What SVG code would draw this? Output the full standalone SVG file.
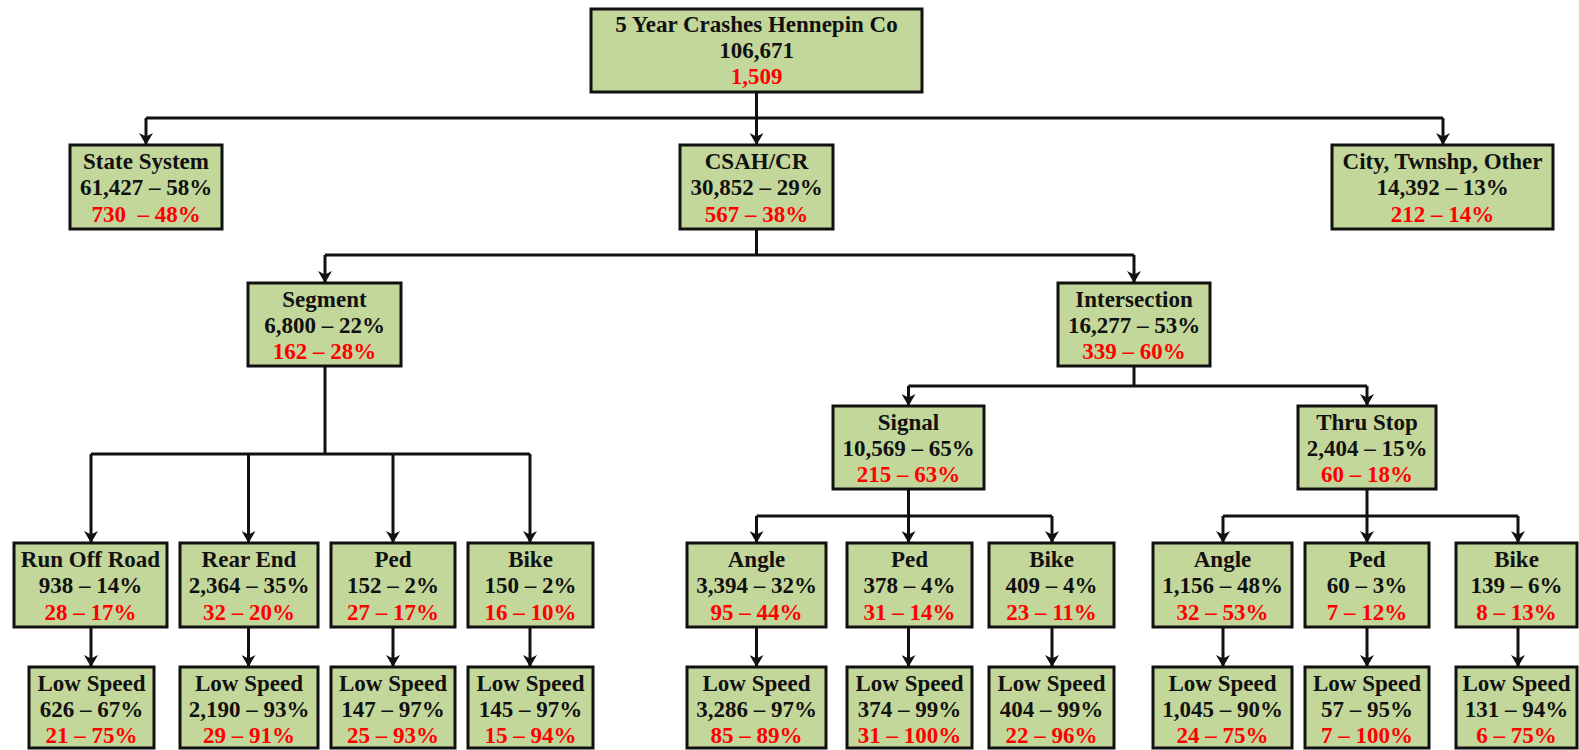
<svg xmlns="http://www.w3.org/2000/svg" width="1579" height="750" viewBox="0 0 1579 750">
<defs>
<style>
.box{fill:#c4d79b;stroke:#111;stroke-width:3}
text{font-family:"Liberation Serif","Times New Roman",serif;font-weight:bold;font-size:23px;text-anchor:middle;fill:#111}
.r{fill:#ff0000}
.c{fill:none;stroke:#111;stroke-width:3}
.a{fill:none;stroke:#111;stroke-width:3;marker-end:url(#ah)}
</style>
<marker id="ah" viewBox="0 0 12 14" refX="12" refY="7" markerWidth="12" markerHeight="14" markerUnits="userSpaceOnUse" orient="auto">
<path d="M0,0 L12,7 L0,14 L3.5,7 z" fill="#111"/>
</marker>
</defs>
<rect width="1579" height="750" fill="#fff"/>
<g id="connectors">
<path class="c" d="M756.5,92 V118 M146,118 H1443"/>
<path class="a" d="M146,118 V145"/>
<path class="a" d="M756.5,118 V145"/>
<path class="a" d="M1443,118 V145"/>
<path class="c" d="M756.5,229 V255 M325,255 H1134"/>
<path class="a" d="M325,255 V283"/>
<path class="a" d="M1134,255 V283"/>
<path class="c" d="M325,366 V454 M91,454 H530"/>
<path class="a" d="M91,454 V543"/>
<path class="a" d="M248.5,454 V543"/>
<path class="a" d="M393,454 V543"/>
<path class="a" d="M530,454 V543"/>
<path class="c" d="M1134,366 V386 M908.5,386 H1367"/>
<path class="a" d="M908.5,386 V406"/>
<path class="a" d="M1367,386 V406"/>
<path class="c" d="M908.5,489 V516 M756.5,516 H1052"/>
<path class="a" d="M756.5,516 V543"/>
<path class="a" d="M908.5,516 V543"/>
<path class="a" d="M1052,516 V543"/>
<path class="c" d="M1367,489 V516 M1223,516 H1518"/>
<path class="a" d="M1223,516 V543"/>
<path class="a" d="M1367,516 V543"/>
<path class="a" d="M1518,516 V543"/>
<path class="a" d="M91,627 V667"/>
<path class="a" d="M248.5,627 V667"/>
<path class="a" d="M393,627 V667"/>
<path class="a" d="M530,627 V667"/>
<path class="a" d="M756.5,627 V667"/>
<path class="a" d="M908.5,627 V667"/>
<path class="a" d="M1052,627 V667"/>
<path class="a" d="M1223,627 V667"/>
<path class="a" d="M1367,627 V667"/>
<path class="a" d="M1518,627 V667"/>
</g>
<g id="n-top"><rect class="box" x="591" y="9" width="331" height="83"/>
<text x="756.5" y="32">5 Year Crashes Hennepin Co</text><text x="756.5" y="58">106,671</text><text class="r" x="756.5" y="84">1,509</text></g>
<g id="n-state"><rect class="box" x="70" y="145" width="152" height="84"/>
<text x="146" y="169">State System</text><text x="146" y="195">61,427 – 58%</text><text class="r" x="146" y="222" xml:space="preserve">730  – 48%</text></g>
<g id="n-csah"><rect class="box" x="680" y="145" width="153" height="84"/>
<text x="756.5" y="169">CSAH/CR</text><text x="756.5" y="195">30,852 – 29%</text><text class="r" x="756.5" y="222">567 – 38%</text></g>
<g id="n-city"><rect class="box" x="1332" y="145" width="221" height="84"/>
<text x="1442.5" y="169">City, Twnshp, Other</text><text x="1442.5" y="195">14,392 – 13%</text><text class="r" x="1442.5" y="222">212 – 14%</text></g>
<g id="n-segment"><rect class="box" x="248" y="283" width="153" height="83"/>
<text x="324.5" y="307">Segment</text><text x="324.5" y="333">6,800 – 22%</text><text class="r" x="324.5" y="359">162 – 28%</text></g>
<g id="n-intersection"><rect class="box" x="1058" y="283" width="152" height="83"/>
<text x="1134" y="307">Intersection</text><text x="1134" y="333">16,277 – 53%</text><text class="r" x="1134" y="359">339 – 60%</text></g>
<g id="n-signal"><rect class="box" x="833" y="406" width="151" height="83"/>
<text x="908.5" y="430">Signal</text><text x="908.5" y="456">10,569 – 65%</text><text class="r" x="908.5" y="482">215 – 63%</text></g>
<g id="n-thrustop"><rect class="box" x="1298" y="406" width="138" height="83"/>
<text x="1367" y="430">Thru Stop</text><text x="1367" y="456">2,404 – 15%</text><text class="r" x="1367" y="482">60 – 18%</text></g>
<g id="n-ror"><rect class="box" x="14" y="543" width="153" height="84"/>
<text x="90.5" y="567">Run Off Road</text><text x="90.5" y="593">938 – 14%</text><text class="r" x="90.5" y="620">28 – 17%</text></g>
<g id="n-rear"><rect class="box" x="180" y="543" width="138" height="84"/>
<text x="249" y="567">Rear End</text><text x="249" y="593">2,364 – 35%</text><text class="r" x="249" y="620">32 – 20%</text></g>
<g id="n-segped"><rect class="box" x="331" y="543" width="124" height="84"/>
<text x="393" y="567">Ped</text><text x="393" y="593">152 – 2%</text><text class="r" x="393" y="620">27 – 17%</text></g>
<g id="n-segbike"><rect class="box" x="468" y="543" width="125" height="84"/>
<text x="530.5" y="567">Bike</text><text x="530.5" y="593">150 – 2%</text><text class="r" x="530.5" y="620">16 – 10%</text></g>
<g id="n-sigangle"><rect class="box" x="687" y="543" width="139" height="84"/>
<text x="756.5" y="567">Angle</text><text x="756.5" y="593">3,394 – 32%</text><text class="r" x="756.5" y="620">95 – 44%</text></g>
<g id="n-sigped"><rect class="box" x="847" y="543" width="125" height="84"/>
<text x="909.5" y="567">Ped</text><text x="909.5" y="593">378 – 4%</text><text class="r" x="909.5" y="620">31 – 14%</text></g>
<g id="n-sigbike"><rect class="box" x="989" y="543" width="125" height="84"/>
<text x="1051.5" y="567">Bike</text><text x="1051.5" y="593">409 – 4%</text><text class="r" x="1051.5" y="620">23 – 11%</text></g>
<g id="n-tsangle"><rect class="box" x="1153" y="543" width="139" height="84"/>
<text x="1222.5" y="567">Angle</text><text x="1222.5" y="593">1,156 – 48%</text><text class="r" x="1222.5" y="620">32 – 53%</text></g>
<g id="n-tsped"><rect class="box" x="1305" y="543" width="124" height="84"/>
<text x="1367" y="567">Ped</text><text x="1367" y="593">60 – 3%</text><text class="r" x="1367" y="620">7 – 12%</text></g>
<g id="n-tsbike"><rect class="box" x="1456" y="543" width="121" height="84"/>
<text x="1516.5" y="567">Bike</text><text x="1516.5" y="593">139 – 6%</text><text class="r" x="1516.5" y="620">8 – 13%</text></g>
<g id="n-ls1"><rect class="box" x="29" y="667" width="125" height="81"/>
<text x="91.5" y="691">Low Speed</text><text x="91.5" y="717">626 – 67%</text><text class="r" x="91.5" y="743">21 – 75%</text></g>
<g id="n-ls2"><rect class="box" x="180" y="667" width="138" height="81"/>
<text x="249" y="691">Low Speed</text><text x="249" y="717">2,190 – 93%</text><text class="r" x="249" y="743">29 – 91%</text></g>
<g id="n-ls3"><rect class="box" x="331" y="667" width="124" height="81"/>
<text x="393" y="691">Low Speed</text><text x="393" y="717">147 – 97%</text><text class="r" x="393" y="743">25 – 93%</text></g>
<g id="n-ls4"><rect class="box" x="468" y="667" width="125" height="81"/>
<text x="530.5" y="691">Low Speed</text><text x="530.5" y="717">145 – 97%</text><text class="r" x="530.5" y="743">15 – 94%</text></g>
<g id="n-ls5"><rect class="box" x="687" y="667" width="139" height="81"/>
<text x="756.5" y="691">Low Speed</text><text x="756.5" y="717">3,286 – 97%</text><text class="r" x="756.5" y="743">85 – 89%</text></g>
<g id="n-ls6"><rect class="box" x="847" y="667" width="125" height="81"/>
<text x="909.5" y="691">Low Speed</text><text x="909.5" y="717">374 – 99%</text><text class="r" x="909.5" y="743">31 – 100%</text></g>
<g id="n-ls7"><rect class="box" x="989" y="667" width="125" height="81"/>
<text x="1051.5" y="691">Low Speed</text><text x="1051.5" y="717">404 – 99%</text><text class="r" x="1051.5" y="743">22 – 96%</text></g>
<g id="n-ls8"><rect class="box" x="1153" y="667" width="139" height="81"/>
<text x="1222.5" y="691">Low Speed</text><text x="1222.5" y="717">1,045 – 90%</text><text class="r" x="1222.5" y="743">24 – 75%</text></g>
<g id="n-ls9"><rect class="box" x="1305" y="667" width="124" height="81"/>
<text x="1367" y="691">Low Speed</text><text x="1367" y="717">57 – 95%</text><text class="r" x="1367" y="743">7 – 100%</text></g>
<g id="n-ls10"><rect class="box" x="1456" y="667" width="121" height="81"/>
<text x="1516.5" y="691">Low Speed</text><text x="1516.5" y="717">131 – 94%</text><text class="r" x="1516.5" y="743">6 – 75%</text></g>
</svg>
